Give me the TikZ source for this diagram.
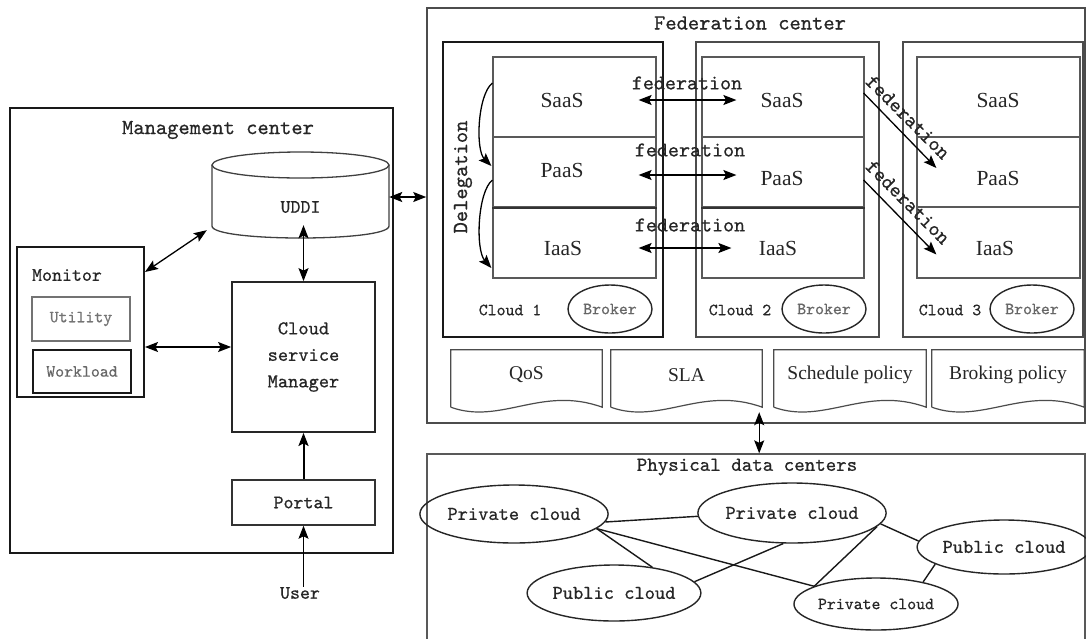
\documentclass[tikz,border=0pt]{standalone}
\usepackage{fontspec}
\newfontfamily\tms{Liberation Serif}
\newfontfamily\mono{lmmono10-regular}[Extension=.otf, FakeBold=0.6]
\usetikzlibrary{arrows.meta,calc,shapes.geometric}
\tikzset{
  ln/.style={draw=black!75, line width=1.3pt},
  bx/.style={rectangle, draw=black!70, line width=1.3pt, inner sep=0pt},
  bxk/.style={rectangle, draw=black!90, line width=2pt, inner sep=0pt},
  ghost/.style={rectangle, inner sep=0pt},
  el/.style={ellipse, draw=black!85, line width=1.4pt, inner sep=0pt},
  mt/.style={font=\mono\fontsize{#1}{#1}\selectfont, text=black!85, inner sep=0pt},
  rm/.style={font=\tms\fontsize{#1}{#1}\selectfont, text=black!85, inner sep=0pt},
  tip/.tip={Stealth[length=13pt,width=10pt,inset=2.5pt]},
  dbl/.style={tip-tip, line width=1.3pt, draw=black},
  sgl/.style={-tip, line width=1.3pt, draw=black},
  edg/.style={draw=black!90, line width=1.4pt},
  docln/.style={draw=black!70, line width=1.2pt},
}
\begin{document}
\begin{tikzpicture}[x=1pt,y=-1pt]
\useasboundingbox (0,0) rectangle (1086,638);
\fill[white] (0,0) rectangle (1086,638);

% ---------------- Management center ----------------
\node[bxk, line width=1.8pt, minimum width=383, minimum height=445] (mgmt) at (201.5,330.5) {};
\node[mt=21.5] (mgmtT) at (218,130) {Management center};

\node[ghost, minimum width=177, minimum height=86] (uddi) at (300.5,195) {};
\draw[ln] (212,165) -- (212,226) .. controls (212,242) and (389,242) .. (389,226) -- (389,165);
\draw[ln] (300.5,165) ellipse [x radius=88.5, y radius=13];
\node[mt=19] (uddiT) at (300.5,207) {UDDI};

\node[bxk, minimum width=127, minimum height=150] (monitor) at (80.5,322) {};
\node[mt=19] (monT) at (67,275) {Monitor};
\node[bx, draw=black!55, line width=1.2pt, mt=17, text=black!55, minimum width=98, minimum height=44] (util) at (81,319) {Utility};
\node[bxk, mt=17, text=black!60, minimum width=98, minimum height=43] (work) at (82,371.5) {Workload};

\node[bx, draw=black!85, line width=1.8pt, font=\mono\fontsize{19.5}{26.5}\selectfont, text=black!85, align=center, minimum width=143, minimum height=150] (csm) at (303.5,357) {Cloud\\service\\Manager};
\node[bx, draw=black!80, line width=1.5pt, mt=19, minimum width=143, minimum height=45] (portal) at (303.5,502.5) {Portal};
\node[mt=19] (user) at (300,593) {User};

\draw[dbl] ($(monitor.north east)+(0,26)$) -- ($(uddi.south west)+(-5,-8)$);
\draw[dbl] ($(uddi.south)+(3,-13)$) -- (csm.north);
\draw[dbl] ($(monitor.east)+(0,25)$) -- ($(csm.west)+(0,-10)$);
\draw[sgl, line width=2pt] (portal.north) -- (csm.south);
\draw[sgl, line width=1pt] (portal.south |- user.north) -- (portal.south);

% ---------------- Federation center ----------------
\node[bx, line width=1.6pt, minimum width=658, minimum height=415] (fed) at (756,215.5) {};
\node[mt=21.5] (fedT) at (750,23) {Federation center};
\coordinate (ue) at ($(uddi.east)+(0,2)$);
\draw[dbl] (ue) -- (ue -| fed.west);

\node[bxk, minimum width=220, minimum height=295] (cl1) at (553,189.5) {};
\node[bx, minimum width=183, minimum height=295] (cl2) at (787.5,189.5) {};
\node[bx, minimum width=180, minimum height=295] (cl3) at (993,189.5) {};

\foreach \c/\x/\w in {1/574.5/163, 2/783/162, 3/998.5/163} {
  \node[bx, draw=black!65, line width=1.2pt, minimum width=\w, minimum height=80] (saas\c) at (\x,97) {};
  \node[bx, draw=black!65, line width=1.2pt, minimum width=\w, minimum height=70] (paas\c) at (\x,172) {};
  \node[bx, draw=black!65, line width=1.2pt, minimum width=\w, minimum height=71] (iaas\c) at (\x,242.5) {};
}
\draw[line width=2.2pt, black!80] (paas1.south west) -- (paas1.south east);
\draw[line width=2.2pt, black!80] (paas2.south west) -- (paas2.south east);

\node[rm=21.5] (saasT1) at (562,100) {SaaS};
\node[rm=21.5] (paasT1) at (562,170) {PaaS};
\node[rm=21.5] (iaasT1) at (563,248) {IaaS};
\node[rm=21.5] (saasT2) at (782,100) {SaaS};
\node[rm=21.5] (paasT2) at (782,178) {PaaS};
\node[rm=21.5] (iaasT2) at (778,248) {IaaS};
\node[rm=21.5] (saasT3) at (998,100) {SaaS};
\node[rm=21.5] (paasT3) at (998,178) {PaaS};
\node[rm=21.5] (iaasT3) at (995,248) {IaaS};

\node[mt=17] (cl1T) at (510,310) {Cloud 1};
\node[mt=17] (cl2T) at (740,310) {Cloud 2};
\node[mt=17] (cl3T) at (950,310) {Cloud 3};
\node[el, mt=17, text=black!60, minimum width=84, minimum height=48] (br1) at (610,309) {Broker};
\node[el, mt=17, text=black!60, minimum width=84, minimum height=48] (br2) at (824,309) {Broker};
\node[el, mt=17, text=black!60, minimum width=84, minimum height=48] (br3) at (1032,309) {Broker};

% federation arrows
\draw[dbl] ($(saas1.east)+(-18,3)$) -- ($(saas2.west)+(35,3)$);
\draw[dbl] ($(paas1.east)+(-18,3)$) -- ($(paas2.west)+(35,3)$);
\draw[dbl] ($(iaas1.east)+(-18,5.5)$) -- ($(iaas2.west)+(30,5.5)$);
\node[mt=21] (fd1) at (687,83) {federation};
\node[mt=21] (fd2) at (690,150) {federation};
\node[mt=21] (fd3) at (690,225) {federation};
\draw[sgl] ($(saas2.east)+(-1,-4)$) -- ($(paas3.west)+(20,-4)$);
\draw[sgl] ($(paas2.east)+(-1,8)$) -- ($(iaas3.west)+(20,12)$);
\node[mt=21, rotate=-45] (fd4) at (908,117) {federation};
\node[mt=21, rotate=-45] (fd5) at (908,202) {federation};

% delegation
\draw[sgl] ($(saas1.west)+(0,-14)$) .. controls ($(saas1.west)+(-15,-2)$) and ($(paas1.west)+(-17,-22)$) .. ($(paas1.west)+(-1,-6)$);
\draw[sgl] ($(paas1.west)+(0,8)$) .. controls ($(paas1.west)+(-15,20)$) and ($(iaas1.west)+(-17,7.5)$) .. ($(iaas1.west)+(-1,25.5)$);
\node[mt=21.5, rotate=90] (deleg) at (463,177) {Delegation};

% documents
\foreach \n/\x/\w/\t in {qos/526.5/151/QoS, sla/686.5/151/SLA, sch/850/152/Schedule policy, brk/1008/152/Broking policy} {
  \node[ghost, minimum width=\w, minimum height=57] (\n) at (\x,378.5) {};
  \draw[docln] (\n.south west) -- (\n.north west) -- (\n.north east) -- (\n.south east)
     .. controls ($(\n.south west)!0.6!(\n.south east)+(0,-22)$) and ($(\n.south west)!0.33!(\n.south east)+(0,18)$) .. (\n.south west);
  \node[rm=19.5] (\n T) at (\x,375) {\t};
}

% ---------------- Physical data centers ----------------
\node[bx, draw=black!65, minimum width=658, minimum height=206] (phys) at (756,557) {};
\node[mt=20] (physT) at (747,467) {Physical data centers};
\coordinate (fa) at ($(sla.south east)+(-3,5)$);
\draw[dbl] (fa) -- (fa |- phys.north);

\node[el, mt=19.5, minimum width=162, minimum height=58] (pc1) at (514,514) {Private cloud};
\node[el, mt=19.5, minimum width=162, minimum height=56] (pub1) at (614,593) {Public cloud};
\node[el, mt=19.5, minimum width=164, minimum height=60] (pc2) at (792,513) {Private cloud};
\node[el, mt=19.5, minimum width=160, minimum height=54] (pub2) at (1004,547) {Public cloud};
\node[el, mt=17, minimum width=164, minimum height=52] (pc3) at (876,604) {Private cloud};

\draw[edg] (pc1.-5) -- (pc2.182);
\draw[edg] (pc1.-10) -- (pub1.34);
\draw[edg] (pc1.-10) -- (pc3.164);
\draw[edg] (pub1.8) -- (pc2.-106);
\draw[edg] (pc2.-9) -- (pc3.164);
\draw[edg] (pc2.-7) -- (pub2.176);
\draw[edg] (pub2.-166) -- (pc3.25);
\end{tikzpicture}
\end{document}
